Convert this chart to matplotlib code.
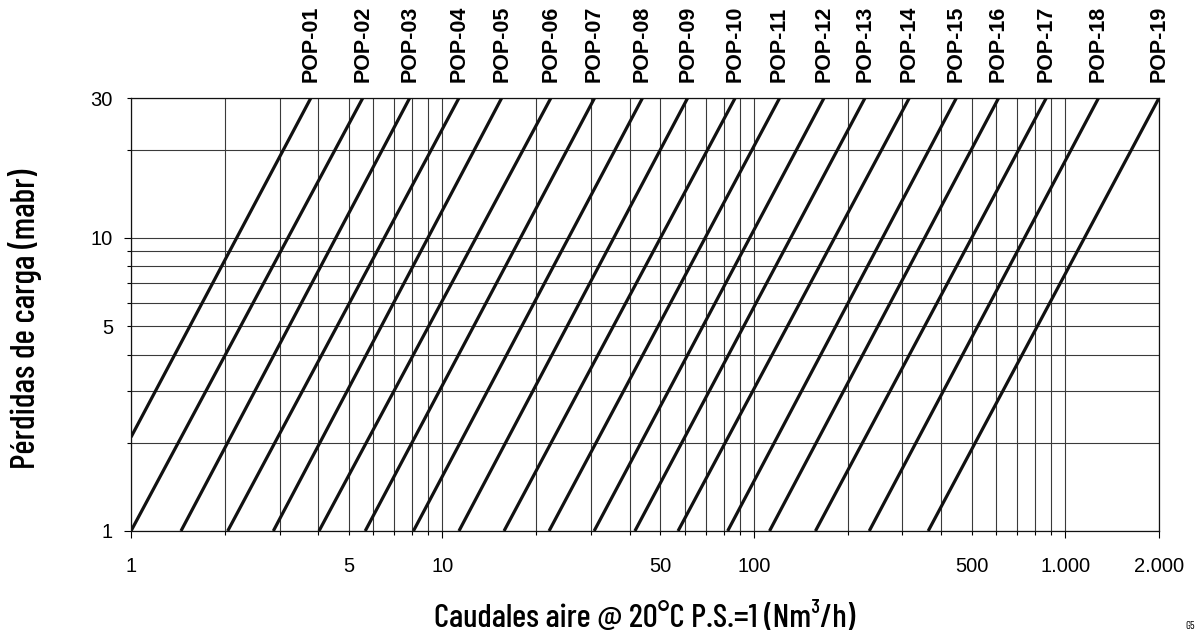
import numpy as np
import matplotlib
matplotlib.use("Agg")
import matplotlib.pyplot as plt
from matplotlib.ticker import FixedLocator, FixedFormatter

# Pressure loss lines: each drawn between a low point and a high point
models = ["POP-%02d" % i for i in range(1, 20)]
q_lo = [1.0, 1.0, 1.447, 2.044, 2.864, 4.015, 5.65, 8.07, 11.3, 15.77,
        22.0, 30.7, 41.5, 57.1, 82.4, 112.3, 157.7, 234.7, 363]
dp_lo = [2.09, 1, 1, 1, 1, 1, 1, 1, 1, 1,
         1, 1, 1, 1, 1, 1, 1, 1, 1]
q_hi = [3.78, 5.55, 7.85, 11.3, 15.5, 22.3, 30.8, 43.9, 61.3, 87.1,
        121, 168, 227.5, 315.6, 447, 611, 869, 1279, 2000]
dp_hi = [30] * 19

# grid / ticks
x_major = [1, 10, 100, 1000, 2000]
x_major_lab = ["1", "10", "100", "1.000", "2.000"]
x_minor = [2, 3, 4, 5, 6, 7, 8, 9, 20, 30, 40, 50, 60, 70, 80, 90,
           200, 300, 400, 500, 600, 700, 800, 900]
x_minor_lab = ["5" if v == 5 else "50" if v == 50 else "500" if v == 500 else ""
               for v in x_minor]
y_major = [1, 10]
y_major_lab = ["1", "10"]
y_minor = [2, 3, 4, 5, 6, 7, 8, 9, 20, 30]
y_minor_lab = ["5" if v == 5 else "30" if v == 30 else "" for v in y_minor]

plt.rcParams['font.family'] = ['Liberation Sans', 'DejaVu Sans']

fig = plt.figure(figsize=(11.97, 6.39), dpi=100)
ax = fig.add_axes([131/1197, 108/639, 1028/1197, 433/639])
ax.set_xscale('log')
ax.set_yscale('log')
ax.set_xlim(1, 2000)
ax.set_ylim(1, 30)

for v in x_major + x_minor:
    ax.axvline(v, color='#3a3a3a', lw=0.8, zorder=1)
for v in y_major + y_minor:
    ax.axhline(v, color='#3a3a3a', lw=0.8, zorder=1)

for i, name in enumerate(models):
    ax.plot([q_lo[i], q_hi[i]], [dp_lo[i], dp_hi[i]], color='#111111',
            lw=2.3, solid_capstyle='butt', zorder=3)
    ax.annotate(name, xy=(q_hi[i], 30), xycoords='data',
                xytext=(0, 11.5), textcoords='offset points',
                rotation=90, ha='center', va='bottom',
                fontsize=15.5, fontweight='bold', annotation_clip=False)

ax.xaxis.set_major_locator(FixedLocator(x_major))
ax.xaxis.set_major_formatter(FixedFormatter(x_major_lab))
ax.xaxis.set_minor_locator(FixedLocator(x_minor))
ax.xaxis.set_minor_formatter(FixedFormatter(x_minor_lab))
ax.yaxis.set_major_locator(FixedLocator(y_major))
ax.yaxis.set_major_formatter(FixedFormatter(y_major_lab))
ax.yaxis.set_minor_locator(FixedLocator(y_minor))
ax.yaxis.set_minor_formatter(FixedFormatter(y_minor_lab))

ax.tick_params(axis='x', which='major', length=5, width=0.8, pad=13.5, labelsize=14.5)
ax.tick_params(axis='x', which='minor', length=3, width=0.8, pad=15.5, labelsize=14.5)
ax.tick_params(axis='y', which='major', length=5, width=0.8, pad=8, labelsize=14.5)
ax.tick_params(axis='y', which='minor', length=3, width=0.8, pad=10, labelsize=14.5)

for s in ax.spines.values():
    s.set_linewidth(0.9)
    s.set_color('#111111')

cond = ['Barlow Condensed', 'DejaVu Sans']
fig.text(645/1197, 1 - 617/639, "Caudales aire @ 20°C P.S.=1 (Nm³/h)",
         ha='center', va='center', fontsize=24, fontweight='medium', family=cond)
fig.text(25/1197, 1 - 319/639, "Pérdidas de carga (mabr)", rotation=90,
         ha='center', va='center', fontsize=24.5, fontweight='medium', family=cond)
fig.text(1190/1197, 1 - 626/639, "G5", ha='center', va='center',
         fontsize=8, family=cond)

fig.savefig("out.png", dpi=100)
